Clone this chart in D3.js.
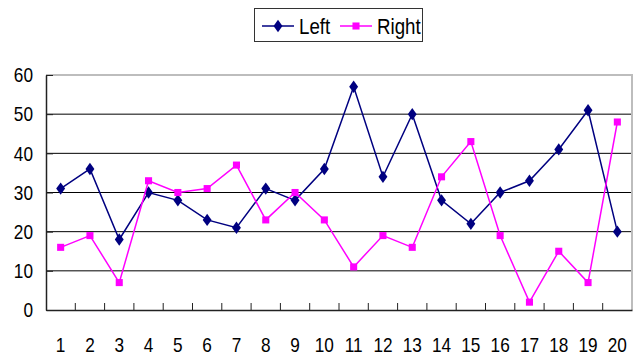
<!DOCTYPE html>
<html>
<head>
<meta charset="utf-8">
<script src="https://cdn.jsdelivr.net/npm/d3@7"></script>
<style>
  body { margin: 0; background: #fff; }
  text { font-family: "Liberation Sans", Arial, sans-serif; fill: #000; }
</style>
</head>
<body>
<svg id="chart" width="634" height="356"></svg>
<script>
// data
const categories = d3.range(1, 21).map(String);
const leftValues  = [31, 36, 18, 30, 28, 23, 21, 31, 28, 36, 57, 34, 50, 28, 22, 30, 33, 41, 51, 20];
const rightValues = [16, 19, 7, 33, 30, 31, 37, 23, 30, 23, 11, 19, 16, 34, 43, 19, 2, 15, 7, 48];
const yTicks = [0, 10, 20, 30, 40, 50, 60];

const margin = {top: 75, right: 2, bottom: 46, left: 46};
const width = 634, height = 356;
const narrow = 0.82; // fake the condensed face of the original
const svg = d3.select('#chart');

const x = d3.scaleBand()
    .domain(categories)
    .range([margin.left, width - margin.right]);

const y = d3.scaleLinear()
    .domain([0, 60])
    .range([height - margin.bottom, margin.top]);

// gridlines
svg.append('g')
    .selectAll('line')
    .data(yTicks.filter(d => d > 0 && d < 60))
    .enter()
    .append('line')
    .attr('x1', margin.left)
    .attr('x2', width - margin.right)
    .attr('y1', d => y(d))
    .attr('y2', d => y(d))
    .attr('stroke', '#000')
    .attr('stroke-width', 1);

// plot frame (top + right light grey)
svg.append('path')
    .attr('d', `M${margin.left},${y(60)}H${width - margin.right}V${y(0)}`)
    .attr('fill', 'none')
    .attr('stroke', '#bdbdbd')
    .attr('stroke-width', 2);

// y axis
const yAxis = svg.append('g')
    .attr('transform', `translate(${margin.left},0)`)
    .call(d3.axisLeft(y).tickValues(yTicks).tickSizeInner(-7).tickSizeOuter(0));
yAxis.select('.domain').attr('stroke', '#222').attr('stroke-width', 1.5);
yAxis.selectAll('.tick line').attr('stroke', '#222');
yAxis.selectAll('text')
    .attr('font-family', null)
    .style('font-size', '21px')
    .attr('x', -13 / narrow)
    .attr('transform', `scale(${narrow},1)`);

// x axis: labels at band centres, ticks at band edges
const xAxis = svg.append('g')
    .attr('transform', `translate(0,${y(0)})`)
    .call(d3.axisBottom(x).tickSize(0).tickPadding(27));
xAxis.select('.domain').attr('stroke', '#222').attr('stroke-width', 1.5);
xAxis.selectAll('text')
    .attr('font-family', null)
    .style('font-size', '21px')
    .attr('transform', `scale(${narrow},1)`);

svg.append('g')
    .selectAll('line')
    .data(categories.slice(1))
    .enter()
    .append('line')
    .attr('x1', d => x(d))
    .attr('x2', d => x(d))
    .attr('y1', y(0))
    .attr('y2', y(0) - 7)
    .attr('stroke', '#222');

const cx = d => x(d) + x.bandwidth() / 2;

const series = [
    {name: 'Left', values: leftValues, color: '#000080', symbol: d3.symbolDiamond, size: 44},
    {name: 'Right', values: rightValues, color: '#ff00ff', symbol: d3.symbolSquare, size: 50}
];

const line = d3.line()
    .x(d => cx(d.c))
    .y(d => y(d.v));

series.forEach(s => {
    const pts = categories.map((c, i) => ({c: c, v: s.values[i]}));
    svg.append('path')
        .datum(pts)
        .attr('d', line)
        .attr('fill', 'none')
        .attr('stroke', s.color)
        .attr('stroke-width', 1.5);
    svg.append('g')
        .selectAll('path')
        .data(pts)
        .enter()
        .append('path')
        .attr('d', d3.symbol().type(s.symbol).size(s.size))
        .attr('transform', d => `translate(${cx(d.c)},${y(d.v)})` + (s.name === 'Left' ? ' scale(1.25,1)' : ''))
        .attr('fill', s.color);
});

// legend
const legend = svg.append('g');
legend.append('rect')
    .attr('x', 254.5).attr('y', 8.5)
    .attr('width', 168).attr('height', 33)
    .attr('fill', '#fff')
    .attr('stroke', '#333');

const legendX = [262, 340];
series.forEach((s, i) => {
    const g = legend.append('g').attr('transform', `translate(${legendX[i]},26)`);
    g.append('line')
        .attr('x1', 0).attr('x2', 32)
        .attr('stroke', s.color).attr('stroke-width', 1.5);
    g.append('path')
        .attr('d', d3.symbol().type(s.symbol).size(s.size))
        .attr('transform', `translate(16,0)` + (s.name === 'Left' ? ' scale(1.25,1)' : ''))
        .attr('fill', s.color);
    g.append('text')
        .attr('x', 37 / 0.85)
        .attr('dy', '0.36em')
        .attr('transform', 'scale(0.85,1)')
        .style('font-size', '22px')
        .text(s.name);
});
</script>
</body>
</html>
